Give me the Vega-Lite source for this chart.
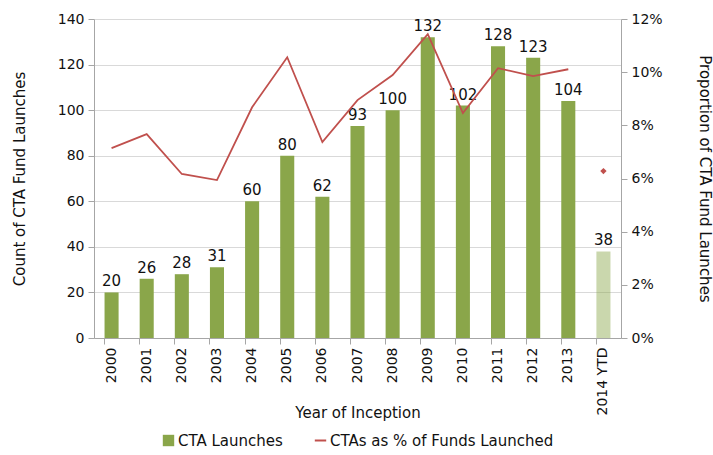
{
  "$schema": "https://vega.github.io/schema/vega-lite/v6.json",
  "width": 527,
  "height": 319,
  "padding": {"left": 12, "top": 12, "right": 5, "bottom": 2},
  "background": "white",
  "config": {
    "font": "DejaVu Sans",
    "view": {"stroke": null},
    "legend": {"layout": {"bottom": {"anchor": "middle", "direction": "horizontal", "margin": 30}}},
    "axis": {"labelFont": "DejaVu Sans", "titleFont": "DejaVu Sans", "labelFontSize": 14, "titleFontSize": 15, "titleFontWeight": "normal", "labelColor": "#111", "titleColor": "#111", "domainColor": "#A6A6A6", "tickColor": "#A6A6A6", "gridColor": "#D9D9D9"}
  },
  "data": {"values": [
    {"year": "2000", "count": 20, "pct": 0.0714, "ytd_pct": null},
    {"year": "2001", "count": 26, "pct": 0.0767, "ytd_pct": null},
    {"year": "2002", "count": 28, "pct": 0.0617, "ytd_pct": null},
    {"year": "2003", "count": 31, "pct": 0.0594, "ytd_pct": null},
    {"year": "2004", "count": 60, "pct": 0.0868, "ytd_pct": null},
    {"year": "2005", "count": 80, "pct": 0.1056, "ytd_pct": null},
    {"year": "2006", "count": 62, "pct": 0.0737, "ytd_pct": null},
    {"year": "2007", "count": 93, "pct": 0.0895, "ytd_pct": null},
    {"year": "2008", "count": 100, "pct": 0.0989, "ytd_pct": null},
    {"year": "2009", "count": 132, "pct": 0.1143, "ytd_pct": null},
    {"year": "2010", "count": 102, "pct": 0.0846, "ytd_pct": null},
    {"year": "2011", "count": 128, "pct": 0.1015, "ytd_pct": null},
    {"year": "2012", "count": 123, "pct": 0.0985, "ytd_pct": null},
    {"year": "2013", "count": 104, "pct": 0.1011, "ytd_pct": null},
    {"year": "2014 YTD", "count": 38, "pct": null, "ytd_pct": 0.0628}
  ]},
  "encoding": {
    "x": {
      "field": "year", "type": "ordinal", "sort": null,
      "scale": {"paddingInner": 0.6, "paddingOuter": 0.3},
      "axis": {"title": "Year of Inception", "labelAngle": -90, "labelAlign": "right", "labelBaseline": "middle", "bandPosition": 0, "ticks": true, "tickSize": 6, "labelPadding": 3, "titlePadding": -9}
    }
  },
  "layer": [
    {
      "encoding": {
        "y": {"field": "count", "type": "quantitative", "scale": {"domain": [0, 140]}, "axis": {"title": "Count of CTA Fund Launches", "values": [0,20,40,60,80,100,120,140], "tickSize": 6, "labelPadding": 4, "titlePadding": 30}}
      },
      "layer": [
        {
          "mark": {"type": "bar"},
          "encoding": {
            "fill": {"datum": "CTA Launches", "type": "nominal", "scale": {"range": ["#8AA64A"]},
              "legend": {"title": null, "orient": "bottom", "labelFontSize": 15, "labelFont": "DejaVu Sans", "labelColor": "#111", "symbolType": "square", "symbolSize": 130, "labelOffset": 2, "offset": 12, "labelLimit": 400}},
            "opacity": {"condition": {"test": "datum.year === '2014 YTD'", "value": 0.45}, "value": 1}
          }
        },
        {
          "mark": {"type": "text", "dy": -11, "fontSize": 15, "color": "#111"},
          "encoding": {
            "text": {"field": "count", "type": "quantitative"}
          }
        }
      ]
    },
    {
      "encoding": {
        "y": {"field": "pct", "type": "quantitative", "scale": {"domain": [0, 0.12]}, "axis": {"orient": "right", "title": "Proportion of CTA Fund Launches", "format": ".0%", "values": [0,0.02,0.04,0.06,0.08,0.1,0.12], "grid": false, "tickSize": 6, "labelPadding": 4, "titlePadding": 34}}
      },
      "layer": [
        {
          "mark": {"type": "line", "strokeWidth": 1.8},
          "encoding": {
            "stroke": {"datum": "CTAs as % of Funds Launched", "type": "nominal", "scale": {"range": ["#C0504D"]},
              "legend": {"title": null, "orient": "bottom", "labelFontSize": 15, "labelFont": "DejaVu Sans", "labelColor": "#111", "symbolType": "stroke", "symbolSize": 130, "symbolStrokeWidth": 2, "labelOffset": 2, "offset": 12, "labelLimit": 400}}
          }
        },
        {
          "mark": {"type": "point", "shape": "diamond", "filled": true, "size": 40, "color": "#C0504D", "opacity": 1},
          "encoding": {
            "y": {"field": "ytd_pct", "type": "quantitative"}
          }
        }
      ]
    }
  ],
  "resolve": {"scale": {"y": "independent", "fill": "independent", "stroke": "independent"}, "legend": {"fill": "independent", "stroke": "independent"}}
}
